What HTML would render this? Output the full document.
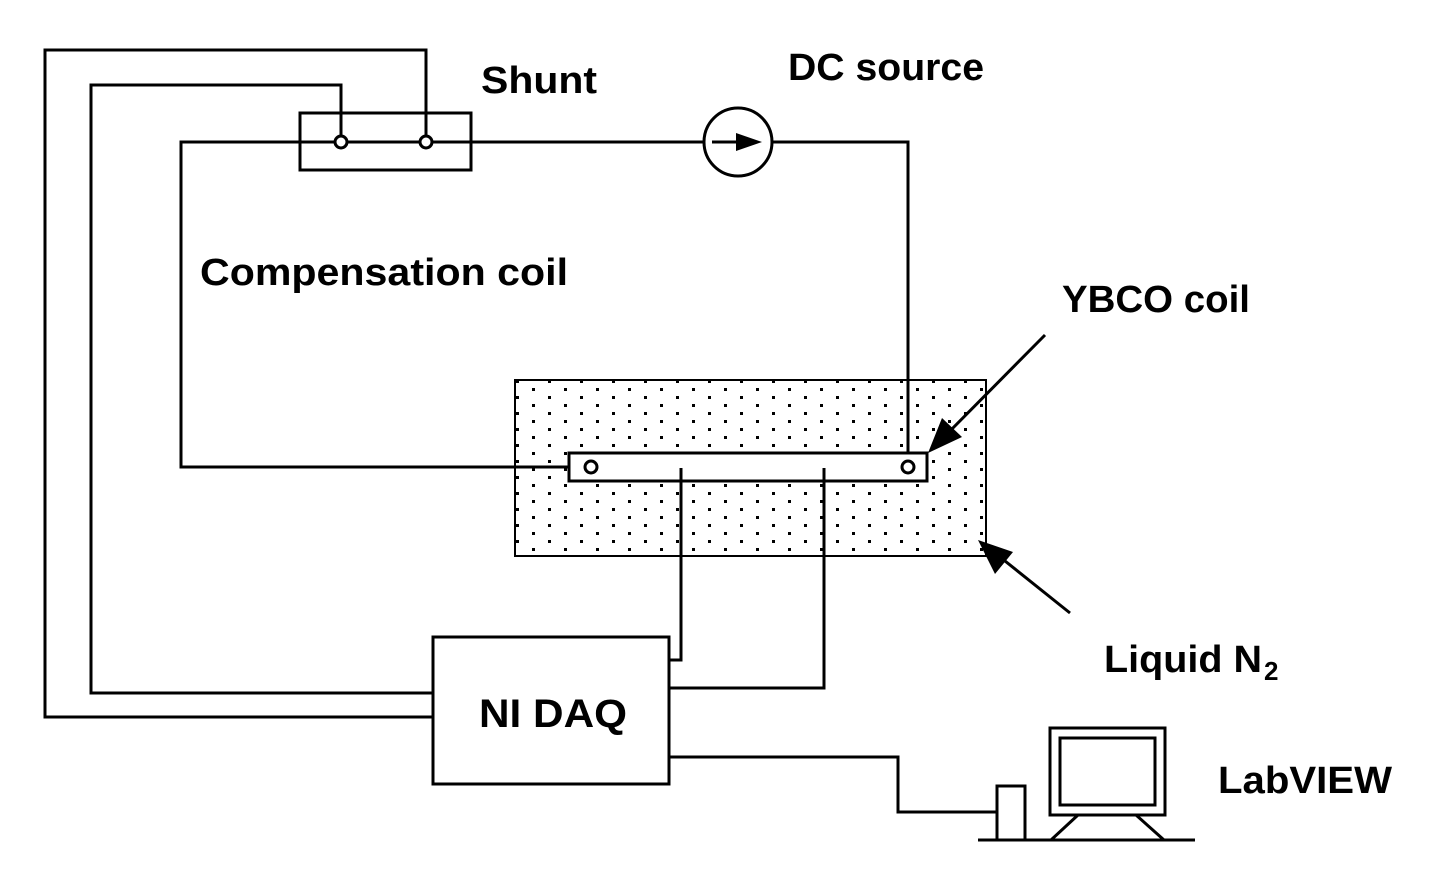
<!DOCTYPE html>
<html><head><style>body{margin:0;background:#fff}svg{display:block}</style></head><body>
<svg width="1430" height="885" viewBox="0 0 1430 885" xmlns="http://www.w3.org/2000/svg" font-family="Liberation Sans, sans-serif" font-weight="bold">
<defs>
<pattern id="d" width="32" height="16" patternUnits="userSpaceOnUse" x="515" y="380">
<rect x="1" y="0" width="3" height="3" fill="#000"/><rect x="17" y="8" width="3" height="3" fill="#000"/>
</pattern>
</defs>
<g fill="none" stroke="#000" stroke-width="3">
<rect x="515" y="380" width="471" height="176" fill="url(#d)" stroke-width="2"/>
<polyline points="433,717 45,717 45,50 426,50 426,136"/>
<polyline points="433,693 91,693 91,85 341,85 341,136"/>
<rect x="300" y="113" width="171" height="57"/>
<polyline points="335,142 181,142 181,467 585,467"/>
<line x1="347" y1="142" x2="420" y2="142"/>
<line x1="432" y1="142" x2="704" y2="142"/>
<circle cx="738" cy="142" r="34"/>
<line x1="712" y1="142" x2="745" y2="142"/>
<polyline points="772,142 908,142 908,461"/>
<rect x="569" y="453" width="358" height="28" fill="#fff"/>
<circle cx="591" cy="467" r="6"/>
<circle cx="908" cy="467" r="6"/>
<circle cx="341" cy="142" r="6"/>
<circle cx="426" cy="142" r="6"/>
<polyline points="681,468 681,660 669,660"/>
<polyline points="824,468 824,688 669,688"/>
<rect x="433" y="637" width="236" height="147"/>
<polyline points="669,757 898,757 898,812 997,812"/>
<rect x="997" y="786" width="28" height="54"/>
<line x1="978" y1="840" x2="1195" y2="840"/>
<rect x="1050" y="728" width="115" height="87"/>
<rect x="1060" y="738" width="95" height="67"/>
<line x1="1078" y1="815" x2="1051" y2="840"/>
<line x1="1136" y1="815" x2="1164" y2="840"/>
<line x1="1045" y1="335" x2="945" y2="436"/>
<line x1="1070" y1="613" x2="995" y2="553"/>
</g>
<polygon points="736,133 736,151 762,142" fill="#000"/>
<polygon points="928,453 942,418 962,437" fill="#000"/>
<polygon points="978,540 1013,552 995,574" fill="#000"/>
<g font-size="38" fill="#000">
<text x="481" y="93" textLength="116" lengthAdjust="spacingAndGlyphs">Shunt</text>
<text x="788" y="80" textLength="196" lengthAdjust="spacingAndGlyphs">DC source</text>
<text x="200" y="285" textLength="368" lengthAdjust="spacingAndGlyphs">Compensation coil</text>
<text x="1062" y="312" textLength="188" lengthAdjust="spacingAndGlyphs">YBCO coil</text>
<text x="1104" y="672" textLength="158" lengthAdjust="spacingAndGlyphs">Liquid N</text>
<text x="1264" y="680" font-size="26">2</text>
<text x="479" y="727" font-size="40" textLength="148" lengthAdjust="spacingAndGlyphs">NI DAQ</text>
<text x="1218" y="793" textLength="174" lengthAdjust="spacingAndGlyphs">LabVIEW</text>
</g>
</svg>
</body></html>
